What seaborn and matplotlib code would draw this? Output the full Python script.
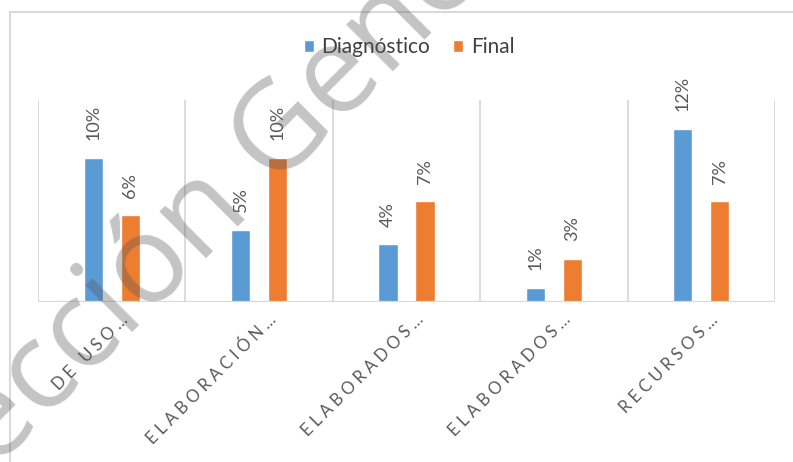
import matplotlib
matplotlib.use("Agg")
import matplotlib.pyplot as plt
from matplotlib.patches import Rectangle
from matplotlib.transforms import ScaledTranslation
import seaborn as sns
import pandas as pd

# Chart data
categories = ["DE USO …", "ELABORACIÓN …", "ELABORADOS …", "ELABORADOS …", "RECURSOS …"]
diagnostico = [0.10, 0.05, 0.04, 0.01, 0.12]
final = [0.06, 0.10, 0.07, 0.03, 0.07]
series_names = ["Diagnóstico", "Final"]
colors = ["#5B9BD5", "#ED7D31"]

sns.set_theme(style="white")
plt.rcParams["font.family"] = ["Lato", "DejaVu Sans"]

df = pd.DataFrame({
    "pos": list(range(len(categories))) * 2,
    "valor": diagnostico + final,
    "serie": [series_names[0]] * len(categories) + [series_names[1]] * len(categories),
})

fig = plt.figure(figsize=(7.93, 4.62), dpi=100)
ax = fig.add_axes([38 / 793, 1 - 302 / 462, (775 - 38) / 793, (302 - 100) / 462])

sns.barplot(data=df, x="pos", y="valor", hue="serie", palette=colors,
            width=0.5, gap=0.48, saturation=1, errorbar=None, ax=ax, zorder=3)

# Value labels above each bar
for cont, vals in zip(ax.containers, [diagnostico, final]):
    ax.bar_label(cont, labels=[f"{v:.0%}" for v in vals], rotation=90,
                 padding=12.5, fontsize=13, color="#595959")

ax.set_ylim(0, 0.14)
ax.set_xlim(-0.5, len(categories) - 0.5)
ax.set_ylabel("")
ax.set_xlabel("")
ax.set_yticks([])
for s in ax.spines.values():
    s.set_visible(False)

grid_c = "#D9D9D9"
ax.vlines([i - 0.5 for i in range(len(categories) + 1)], 0, 0.14,
          color=grid_c, lw=1.3, zorder=1)
ax.axhline(0, color=grid_c, lw=1.6, zorder=4)

# Letter-spaced category labels
ax.set_xticks(range(len(categories)))
ax.set_xticklabels([" ".join(c.replace(" …", "…")) for c in categories], rotation=45,
                   ha="right", va="center", rotation_mode="anchor",
                   fontsize=12, color="#595959")
ax.tick_params(axis="x", length=0, pad=11)
shift = ScaledTranslation(14 / 100, 0, fig.dpi_scale_trans)
for lbl in ax.get_xticklabels():
    lbl.set_transform(lbl.get_transform() + shift)

handles, labels = ax.get_legend_handles_labels()
ax.legend(handles, labels, loc="center", bbox_to_anchor=(409 / 793, 1 - 47 / 462),
          bbox_transform=fig.transFigure, ncol=2, frameon=False,
          handlelength=0.5, handleheight=0.5, handletextpad=0.35,
          columnspacing=1.1, fontsize=15, labelcolor="#404040")

# Chart area border
fig.patches.append(Rectangle((10 / 793, -0.2), 1.2, 1.2 - 12 / 462,
                             transform=fig.transFigure, fill=False,
                             edgecolor=grid_c, lw=1.5))

# Watermark
fig.text(-126 / 793, 1 - 590 / 462, "Dirección General", rotation=45,
         rotation_mode="anchor", ha="left", va="baseline",
         fontsize=88, color="#555555", alpha=0.35,
         zorder=10, family=["Open Sans", "DejaVu Sans"])

fig.savefig("out.png", dpi=100)
